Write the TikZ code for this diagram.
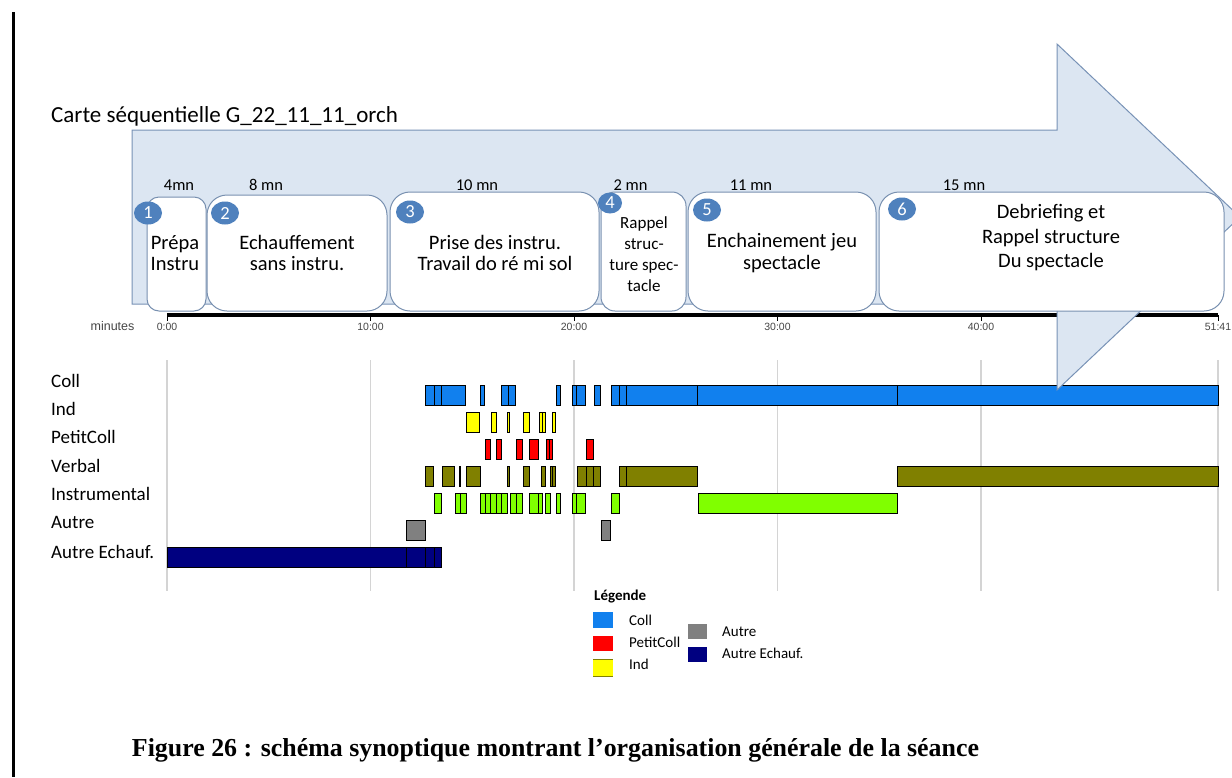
\documentclass[tikz,border=0pt]{standalone}
\usepackage{fontspec}
\usepackage{graphicx}
\setmainfont{Carlito}
\newfontfamily\capfont{Liberation Serif}
\newfontfamily\axfont{Liberation Sans}
\usetikzlibrary{shapes.geometric}
\definecolor{arrowfill}{RGB}{220,230,242}
\definecolor{arrowline}{RGB}{120,146,182}
\definecolor{boxline}{RGB}{120,144,176}
\definecolor{numblue}{RGB}{79,129,189}
\definecolor{collc}{RGB}{17,128,238}
\definecolor{indc}{RGB}{255,255,0}
\definecolor{pcc}{RGB}{255,0,0}
\definecolor{verbc}{RGB}{128,128,0}
\definecolor{instc}{RGB}{128,255,0}
\definecolor{autc}{RGB}{128,128,128}
\definecolor{aec}{RGB}{0,0,128}
\definecolor{gridc}{RGB}{212,212,212}
\definecolor{axtxt}{RGB}{70,70,70}
\newcommand\fs[2]{\fontsize{#1}{#2}\selectfont}
\begin{document}
\begin{tikzpicture}[x=1pt,y=-1pt,
  arrowshape/.style={fill=arrowfill,draw=arrowline,line width=1pt},
  phasebox/.style={draw=boxline,fill=white,line width=1pt,rectangle,inner sep=0pt},
  numdot/.style={ellipse,fill=numblue,text=white,inner sep=0pt,minimum width=28pt,minimum height=23pt,font=\fs{18.5}{20}},
  durlbl/.style={anchor=base,font=\fs{16.5}{20}},
  boxtxt/.style={align=center,inner sep=0pt,font=\fs{20.5}{21.5}},
  seg/.style={draw=black,line width=0.8pt},
  gridln/.style={draw=gridc,line width=1.3pt},
  rowlbl/.style={anchor=base west,inner sep=0pt,font=\fs{19}{22}},
  leglbl/.style={anchor=west,inner sep=0pt,font=\fs{15}{18}},
  ticklbl/.style={anchor=base,inner sep=0pt,font=\axfont\fs{10.5}{12},text=axtxt}
]
\useasboundingbox (0,0) rectangle (1232,777);
\begin{scope}
\clip (0,0) rectangle (1232,777);
\fill[white] (0,0) rectangle (1232,777);
% frame line
\draw[line width=3pt] (13.5,12) -- (13.5,777);
% grid lines
\foreach \x in {167,370.5,574,777.5,981,1218}
  \draw[gridln] (\x,360) -- (\x,591);
% bars
\foreach \a/\b in {425/434.3,434.3/441.7,441.7/465.7,480.7/484.3,501.7/508,508/515.7,556/560,572.5/576.7,576.7/585.7,594.2/600.7,611/619.2,619.2/626.5,626.5/697.7,697.7/897,897/1218}
  \draw[seg,fill=collc] (\a,385.5) rectangle (\b,405.5);
\foreach \a/\b in {466.7/479.5,491/496.7,507.5/509.3,523.3/529,539/542.5,542.5/545.7,552.5/555.7}
  \draw[seg,fill=indc] (\a,412.5) rectangle (\b,432.5);
\foreach \a/\b in {485/490.7,496.7/501.7,516.7/522.7,529.3/538.3,546/549,549/552.3,586/593.3}
  \draw[seg,fill=pcc] (\a,439.3) rectangle (\b,459.3);
\foreach \a/\b in {425/433.3,442.3/454.3,459.3/460.7,466.7/480,507.5/509.3,523.3/529,541.7/545.7,550/552.5,552.5/555.7,577.3/586.5,586.5/593.8,593.8/600.7,619.3/626.3,626.3/697.7,897/1218}
  \draw[seg,fill=verbc] (\a,466.5) rectangle (\b,486.5);
\foreach \a/\b in {434.3/441.7,455/460,460/466,480/485,485/490.7,490.7/496.7,496.7/501.7,501.7/507.3,510/516.7,516.7/522.7,529.3/538.3,538.3/542.3,545.7/550,556/560,572.5/576.7,576.7/585.7,611/619,698/897}
  \draw[seg,fill=instc] (\a,493) rectangle (\b,513);
\foreach \a/\b in {406.7/425,601/610}
  \draw[seg,fill=autc] (\a,520) rectangle (\b,540);
\foreach \a/\b in {167/406,406/425,425/434,434/441.7}
  \draw[seg,fill=aec] (\a,547) rectangle (\b,567);
% axis
\coordinate (ax0) at (167,315);
\coordinate (ax1) at (1218,315);
\draw[line width=3.5pt] (ax0) -- (ax1);
\foreach \x/\l [count=\i] in {167/0:00,370.5/10:00,574/20:00,777.5/30:00,981/40:00,1218/51:41}{
  \draw[line width=1pt] (\x,315) -- (\x,320.5);
  \node[ticklbl] (tick\i) at (\x,330) {\l};
}
\node[anchor=base,inner sep=0pt,font=\axfont\fs{12.5}{14},text=axtxt] (minlbl) at (112.5,330) {minutes};
% big arrow
\draw[arrowshape] (132,130) -- (1057,130) -- (1057,44) -- (1240,217) -- (1057,390) -- (1057,304) -- (132,304) -- cycle;
% phase boxes
\node[phasebox,rounded corners=12pt,minimum width=59pt,minimum height=114pt] (b1) at (176.5,254) {};
\node[phasebox,rounded corners=20pt,minimum width=180pt,minimum height=116pt] (b2) at (297,253) {};
\node[phasebox,rounded corners=20pt,minimum width=209pt,minimum height=119pt] (b3) at (494.5,251.5) {};
\node[phasebox,rounded corners=14pt,minimum width=85pt,minimum height=119pt] (b4) at (643.5,251.5) {};
\node[phasebox,rounded corners=20pt,minimum width=188pt,minimum height=119pt] (b5) at (782,251.5) {};
\node[phasebox,rounded corners=20pt,minimum width=345pt,minimum height=119pt] (b6) at (1051.5,251.5) {};
% texts
\node[boxtxt] (t1) at (175,253) {Prépa\\Instru};
\node[boxtxt] (t2) at (297,253) {Echauffement\\sans instru.};
\node[boxtxt] (t3) at (495,253) {Prise des instru.\\Travail do ré mi sol};
\node[boxtxt,font=\fs{17}{21}] (t4) at (644,254) {Rappel\\struc-\\ture spec-\\tacle};
\node[boxtxt] (t5) at (782,253) {Enchainement jeu\\spectacle};
\node[boxtxt,font=\fs{20.5}{24.5}] (t6) at (1051,238) {Debriefing et\\Rappel structure\\Du spectacle};
% numbers
\node[numdot] (n1) at (148,213) {1};
\node[numdot] (n2) at (225,213) {2};
\node[numdot] (n3) at (410,212) {3};
\node[numdot,minimum width=24pt,minimum height=21pt] (n4) at (610,203) {4};
\node[numdot] (n5) at (707,210) {5};
\node[numdot] (n6) at (902,209) {6};
% durations
\node[durlbl] (d1) at (179,190.5) {4mn};
\node[durlbl] (d2) at (266,190.5) {8 mn};
\node[durlbl] (d3) at (477,190.5) {10 mn};
\node[durlbl] (d4) at (630.5,190.5) {2 mn};
\node[durlbl] (d5) at (751,190.5) {11 mn};
\node[durlbl] (d6) at (964,190.5) {15 mn};
% title
\node[anchor=base west,inner sep=0pt,font=\fs{23}{27}] (title) at (51,122.5) {Carte séquentielle G\_22\_11\_11\_orch};
% row labels
\node[rowlbl] (r1) at (51,387.5) {Coll};
\node[rowlbl] (r2) at (51,415.5) {Ind};
\node[rowlbl] (r3) at (51,443.5) {PetitColl};
\node[rowlbl] (r4) at (51,472) {Verbal};
\node[rowlbl] (r5) at (51,500) {Instrumental};
\node[rowlbl] (r6) at (51,528) {Autre};
\node[rowlbl] (r7) at (51,558) {Autre Echauf.};
% legend
\node[anchor=west,inner sep=0pt,font=\bfseries\fs{15}{18}] (legt) at (594,596) {Légende};
\fill[collc] (593,612) rectangle (613,628);
\fill[pcc] (593,636) rectangle (613,651);
\fill[indc] (593,659) rectangle (613,676);
\draw[verbc,line width=0.8pt] (593,659) -- (613,659) (593,676) -- (613,676);
\fill[autc] (688,624) rectangle (707,639);
\fill[aec] (688,647) rectangle (707,662);
\node[leglbl] (l1) at (629,620) {Coll};
\node[leglbl] (l2) at (629,642) {PetitColl};
\node[leglbl] (l3) at (629,664) {Ind};
\node[leglbl] (l4) at (722,632) {Autre};
\node[leglbl] (l5) at (722,653) {Autre Echauf.};
% caption
\node[anchor=center,inner sep=0pt] (cap) at (555.5,750) {\resizebox{847pt}{!}{\capfont\bfseries\fs{25}{30}Figure 26 : schéma synoptique montrant l’organisation générale de la séance}};
\end{scope}
\end{tikzpicture}
\end{document}
